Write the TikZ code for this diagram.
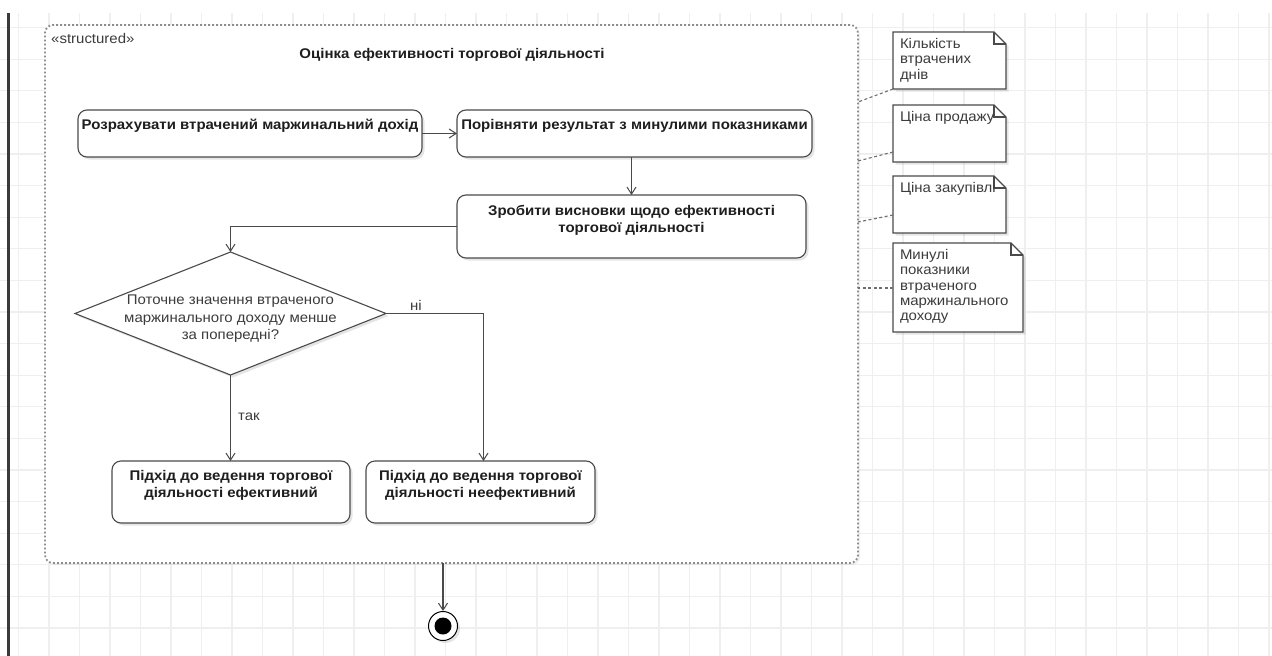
\documentclass[tikz,border=0pt]{standalone}
\usepackage{fontspec}
\setmainfont[FakeStretch=1.07]{Liberation Sans}
\usetikzlibrary{arrows.meta,calc,shadows,shapes.geometric}

\definecolor{gridc}{HTML}{EFEFEF}
\definecolor{linec}{HTML}{4A4A4A}
\definecolor{textc}{HTML}{1E1E1E}
\definecolor{softtxt}{HTML}{3C3C3C}
\definecolor{regc}{HTML}{8C8C8C}
\definecolor{railc}{HTML}{3A3A3A}

% top-aligned text block of fixed size: width, height, contents
\newcommand\tbox[3]{\parbox[c][#2][t]{#1}{#3}}
\newcommand\actfont{\fontsize{14}{17}\selectfont\bfseries}
\newcommand\notefont{\fontsize{14}{15.2}\selectfont}

\begin{document}
\begin{tikzpicture}[x=1pt,y=-1pt,
  softshadow/.style={drop shadow={shadow xshift=2.5pt,shadow yshift=-2.5pt,opacity=0.10,fill=black}},
  actbox/.style={draw=linec,line width=1.1pt,rounded corners=9pt,fill=white,
                 inner sep=0pt,outer sep=0pt,softshadow,text=textc},
  decbox/.style={diamond,draw=linec,line width=1.1pt,fill=white,inner sep=0pt,
                 outer sep=0pt,softshadow},
  arr/.style={draw=linec,line width=1.1pt,-{Straight Barb[length=7pt,width=9pt,line width=1pt]}},
  region/.style={draw=regc,line width=1.8pt,dash pattern=on 1.8pt off 2.2pt,rounded corners=8pt,
                 inner sep=0pt,outer sep=0pt,fill=white,
                 drop shadow={shadow xshift=2pt,shadow yshift=-2pt,opacity=0.06,fill=black}},
  notebox/.style={inner sep=0pt,outer sep=0pt,text=softtxt,font=\notefont},
  noteline/.style={draw=linec,line width=1.1pt,fill=white,line join=miter},
  notelink/.style={draw=linec!80,line width=1.1pt,dash pattern=on 3pt off 2.5pt},
  lbl/.style={font=\fontsize{14}{16}\selectfont,text=softtxt,inner sep=0pt}
]
\useasboundingbox (0,0) rectangle (1272,656);

% background grid
\foreach \k in {0,...,41}
  \draw[gridc,line width=1.3pt] ({18.5+30.5*\k},13) -- ({18.5+30.5*\k},656);
\foreach \k in {0,...,19}
  \draw[gridc,line width=1.3pt] (0,{27.6+31.6*\k}) -- (1272,{27.6+31.6*\k});

% left rail
\draw[railc,line width=3pt] (8.8,13) -- (8.8,656);

% structured activity region
\node[region,minimum width=813pt,minimum height=538pt] (reg) at (451.5,294) {};
\node[anchor=west,inner sep=0pt,text=softtxt,font=\fontsize{14}{16}\selectfont] (stereo) at (51,38) {«structured»};
\node[inner sep=0pt,text=textc,font=\fontsize{14}{16}\selectfont\bfseries] (title) at (452,55)
  {Оцінка ефективності торгової діяльності};

% actions
\node[actbox] (a1) at (250,133.5)
  {\tbox{344pt}{47pt}{\centering\actfont\vspace*{9pt}Розрахувати втрачений маржинальний дохід}};
\node[actbox] (a2) at (634.5,133.5)
  {\tbox{355pt}{47pt}{\centering\actfont\vspace*{9pt}Порівняти результат з минулими показниками}};
\node[actbox] (a3) at (631.5,226.5)
  {\tbox{349pt}{63pt}{\centering\actfont\vspace*{10.5pt}Зробити висновки щодо ефективності\\торгової діяльності}};
\node[actbox] (bl) at (231,492)
  {\tbox{238pt}{62pt}{\centering\actfont\vspace*{9.5pt}Підхід до ведення торгової\\діяльності ефективний}};
\node[actbox] (br) at (480.5,492)
  {\tbox{229pt}{62pt}{\centering\actfont\vspace*{9.5pt}Підхід до ведення торгової\\діяльності неефективний}};

% decision
\node[decbox,minimum width=311pt,minimum height=123pt] (dec) at (230.5,313.5) {};
\node[align=center,inner sep=0pt,text=softtxt,font=\fontsize{14}{17.5}\selectfont] (dect) at (230.5,319)
  {Поточне значення втраченого\\маржинального доходу менше\\за попередні?};

% final node
\node[circle,draw=black,line width=1pt,fill=white,minimum size=29pt,inner sep=0pt,softshadow] (fin) at (443,626) {};
\node[circle,fill=black,minimum size=17pt,inner sep=0pt] (fincore) at (fin.center) {};

% flows
\draw[arr] (a1.east) -- (a2.west);
\draw[arr] (a3.north |- a2.south) -- (a3.north);
\draw[arr] (a3.west) -| (dec.north);
\draw[arr] (dec.south) -- (dec.south |- bl.north);
\draw[arr] (dec.east) -| ($(br.north)+(3,0)$);
\draw[arr] (reg.south -| fin.north) -- (fin.north);
\node[lbl,anchor=west] (yes) at (238,417) {так};
\node[lbl,anchor=west] (no) at (410,305) {ні};

% notes (text block is allowed to run over the folded corner)
\foreach \nm/\cx/\cy/\w/\h/\txt in {
    n1/893/32/113/57/{Кількість\\втрачених\\днів},
    n2/893/105/113/57/{Ціна продажу},
    n3/893/176/113/57/{Ціна закупівлі},
    n4/893/243/130/89/{Минулі\\показники\\втраченого\\маржинального\\доходу}} {
  \draw[noteline,softshadow] (\cx,\cy) -- ({\cx+\w-12},\cy) -- ({\cx+\w},{\cy+12})
     -- ({\cx+\w},{\cy+\h}) -- (\cx,{\cy+\h}) -- cycle;
  \draw[noteline,fill=none] ({\cx+\w-12},\cy) -- ({\cx+\w-12},{\cy+12}) -- ({\cx+\w},{\cy+12});
  \node[notebox,anchor=north west] (\nm) at (\cx,\cy)
    {\tbox{\w pt}{\h pt}{\raggedright\hyphenpenalty=10000\leftskip=7pt\rightskip=0pt minus 30pt\vspace*{6.5pt}\txt}};
}

% note attachments
\draw[notelink] (n1.south west) -- ($(reg.north east)+(0,77)$);
\draw[notelink] ($(n2.south west)+(0,-10)$) -- ($(reg.north east)+(0,136)$);
\draw[notelink] ($(n3.south west)+(0,-18)$) -- ($(reg.north east)+(0,197)$);
\draw[notelink] ($(n4.west)+(0,0.5)$) -- ($(reg.north east)+(0,263)$);
\end{tikzpicture}
\end{document}
